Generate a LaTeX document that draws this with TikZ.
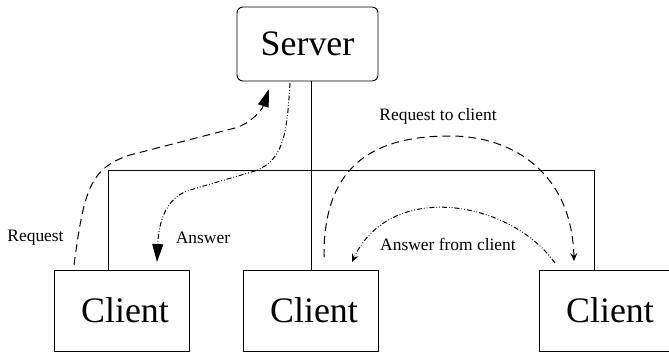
\documentclass[tikz,border=0pt]{standalone}
\usepackage{fontspec}
\setmainfont{Liberation Serif}
\usetikzlibrary{arrows.meta}
\begin{document}
\begin{tikzpicture}[x=1bp,y=-1bp,
  box/.style={draw,line width=0.9pt,inner sep=0pt,font=\fontsize{36}{40}\selectfont},
  wire/.style={line width=0.9pt},
  lbl/.style={inner sep=0pt,font=\fontsize{17.5}{20}\selectfont},
  req/.style={line width=1pt,dash pattern=on 8pt off 5pt},
  ans/.style={line width=1pt,dash pattern=on 5pt off 2pt on 0.8pt off 2pt on 0.8pt off 2pt},
  bighead/.style={-{Triangle[length=18pt,width=11pt]}},
  smallhead/.style={-{Stealth[length=8pt,width=7pt,inset=3pt]}}]
\useasboundingbox (0,0) rectangle (669,352);
% nodes
\node[box,rounded corners=6bp,minimum width=141bp,minimum height=74bp] (server) at (307.5,44) {Server};
\node[box,minimum width=135bp,minimum height=81bp] (c1) at (121.5,310.5) {\hspace*{7bp}Client};
\node[box,minimum width=135bp,minimum height=81bp] (c2) at (310.5,310.5) {\hspace*{7bp}Client};
\node[box,minimum width=135bp,minimum height=81bp] (c3) at (606.5,310.5) {\hspace*{7bp}Client};
% bus
\coordinate (jl) at (108,170);
\coordinate (jm) at (311,170);
\coordinate (jr) at (594,170);
\draw[wire] (jm |- server.south) -- (jm);
\draw[wire] (jl) -- (jr);
\draw[wire] (jl) -- (jl |- c1.north);
\draw[wire] (jm) -- (jm |- c2.north);
\draw[wire] (jr) -- (jr |- c3.north);
% labels
\node[lbl] (lreq) at (35.5,238) {Request};
\node[lbl] (lans) at (203,238) {Answer};
\node[lbl] (lrtc) at (438,116) {Request to client};
\node[lbl] (lafc) at (448,244) {Answer from client};
% arrow end points
\coordinate (rs) at (74,265);
\coordinate (re) at (269,89);
\coordinate (as) at (290,83);
\coordinate (ae) at (157,262);
\coordinate (qs) at (324,257);
\coordinate (qe) at (574,261);
\coordinate (fs) at (555,263);
\coordinate (fe) at (352,262);
% Request
\draw[req,bighead] (rs) .. controls (84,190) and (90,168) .. (130,155)
  -- (235,128) .. controls (250,124) and (262,110) .. (re);
% Answer
\draw[ans,bighead] (as) .. controls (287,130) and (285,160) .. (255,171)
  -- (190,190) .. controls (170,196) and (159,215) .. (ae);
% Request to client
\draw[req,smallhead] (qs) .. controls (323,160) and (380,136) .. (450,136)
  .. controls (515,136) and (572,175) .. (qe);
% Answer from client
\draw[ans,smallhead] (fs) .. controls (510,200) and (390,180) .. (fe);
\end{tikzpicture}
\end{document}
